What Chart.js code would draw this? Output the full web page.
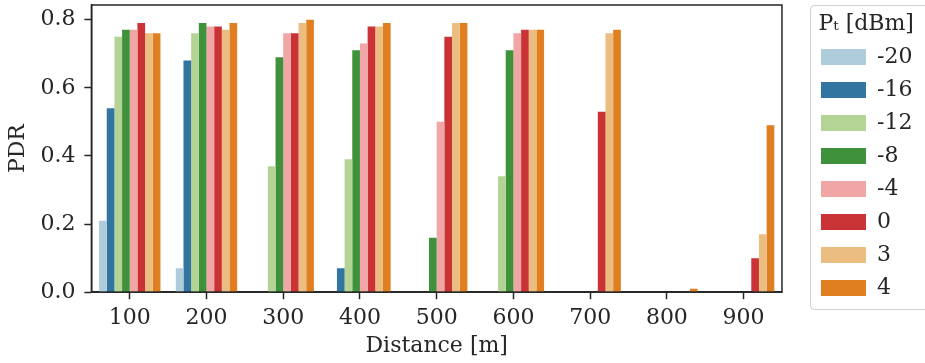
<!DOCTYPE html>
<html>
<head>
<meta charset="utf-8">
<script src="https://cdn.jsdelivr.net/npm/chart.js@4.4.1/dist/chart.umd.min.js"></script>
<style>
html, body { margin: 0; padding: 0; background: #ffffff; }
canvas { display: block; }
</style>
</head>
<body>
<canvas id="c" width="925" height="363"></canvas>
<script>
// Categories (distance in metres)
const distances = ['100', '200', '300', '400', '500', '600', '700', '800', '900'];
// Transmit power levels (legend labels)
const powerLabels = ['-20', '-16', '-12', '-8', '-4', '0', '3', '4'];
// PDR per power level, one value per distance (null = no bar)
const pdrM20 = [0.21, 0.07, null, null, null, null, null, null, null];
const pdrM16 = [0.54, 0.68, null, 0.07, null, null, null, null, null];
const pdrM12 = [0.75, 0.76, 0.37, 0.39, null, 0.34, null, null, null];
const pdrM8  = [0.77, 0.79, 0.69, 0.71, 0.16, 0.71, null, null, null];
const pdrM4  = [0.77, 0.78, 0.76, 0.73, 0.50, 0.76, null, null, null];
const pdr0   = [0.79, 0.78, 0.76, 0.78, 0.75, 0.77, 0.53, null, 0.10];
const pdr3   = [0.76, 0.77, 0.79, 0.78, 0.79, 0.77, 0.76, null, 0.17];
const pdr4   = [0.76, 0.79, 0.80, 0.79, 0.79, 0.77, 0.77, 0.01, 0.49];
// Y axis ticks
const yTicks = [0.0, 0.2, 0.4, 0.6, 0.8];

const seriesValues = [pdrM20, pdrM16, pdrM12, pdrM8, pdrM4, pdr0, pdr3, pdr4];
const colors = ['#aeccdb', '#3275a1', '#b3d495', '#40913b', '#efa6a5', '#ca3335', '#ebbd81', '#df7f20'];

const FONT = "'DejaVu Serif', 'Liberation Serif', serif";
const INK = '#262626';

const framePlugin = {
  id: 'frames',
  afterDraw(chart) {
    const ctx = chart.ctx;
    const a = chart.chartArea;
    ctx.save();
    // plot frame
    ctx.strokeStyle = INK;
    ctx.lineWidth = 1.5;
    ctx.strokeRect(a.left, a.top, a.right - a.left, a.bottom - a.top);
    // legend frame
    const lg = chart.legend;
    const x = lg.left + 0.5, y = lg.top + 0.5, w = 130, h = 304, r = 4;
    ctx.strokeStyle = '#d0d0d0';
    ctx.lineWidth = 1;
    ctx.beginPath();
    ctx.moveTo(x + r, y);
    ctx.lineTo(x + w, y);
    ctx.lineTo(x + w, y + h);
    ctx.lineTo(x + r, y + h);
    ctx.arcTo(x, y + h, x, y + h - r, r);
    ctx.lineTo(x, y + r);
    ctx.arcTo(x, y, x + r, y, r);
    ctx.stroke();
    ctx.restore();
  }
};

new Chart(document.getElementById('c'), {
  type: 'bar',
  data: {
    labels: distances,
    datasets: powerLabels.map((lab, i) => ({
      label: lab,
      data: seriesValues[i],
      backgroundColor: colors[i],
      borderWidth: 0,
      barPercentage: 1.0,
      categoryPercentage: 0.8
    }))
  },
  options: {
    responsive: false,
    animation: false,
    devicePixelRatio: 1,
    layout: { padding: { top: 5, right: 2.6, bottom: 0, left: 0 } },
    plugins: {
      tooltip: { enabled: false },
      legend: {
        position: 'right',
        align: 'start',
        title: {
          display: true,
          text: 'P\u209C [dBm]',
          position: 'center',
          color: INK,
          font: { family: FONT, size: 22, lineHeight: 1.0 },
          padding: { top: 8, bottom: 0 }
        },
        labels: {
          boxWidth: 45,
          boxHeight: 16,
          padding: 11,
          color: INK,
          font: { family: FONT, size: 22 }
        }
      }
    },
    scales: {
      x: {
        grid: { display: true, drawOnChartArea: false, drawTicks: true, tickLength: 7, tickWidth: 1.5, color: INK, offset: false },
        border: { display: true, color: INK, width: 1.5 },
        ticks: { color: INK, font: { family: FONT, size: 22 }, padding: 6, maxRotation: 0 },
        title: { display: true, text: 'Distance [m]', color: INK, font: { family: FONT, size: 22 }, padding: { top: -5, bottom: 4 } }
      },
      y: {
        min: 0,
        max: 0.843,
        afterBuildTicks(scale) { scale.ticks = yTicks.map(v => ({ value: v })); },
        afterFit(scale) { scale.paddingTop = 0; scale.paddingBottom = 0; },
        grid: { display: true, drawOnChartArea: false, drawTicks: true, tickLength: 7, tickWidth: 1.5, color: INK },
        border: { display: true, color: INK, width: 1.5 },
        ticks: { color: INK, font: { family: FONT, size: 22 }, padding: 9, callback: v => Number(v).toFixed(1) },
        title: { display: true, text: 'PDR', color: INK, font: { family: FONT, size: 22 }, padding: { top: 5, bottom: 0 } }
      },
      yR: {
        type: 'linear',
        position: 'right',
        display: true,
        grid: { display: false, drawTicks: false },
        border: { display: false },
        ticks: { display: false },
        afterFit(scale) { scale.width = 28; scale.paddingTop = 0; scale.paddingBottom = 0; }
      }
    }
  },
  plugins: [framePlugin]
});
</script>
</body>
</html>
